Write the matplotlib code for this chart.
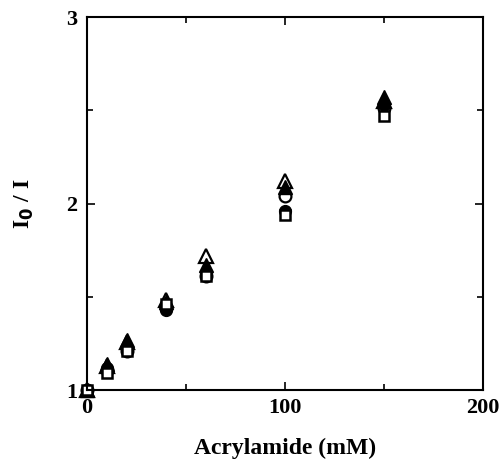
import matplotlib
matplotlib.use("Agg")
import matplotlib.pyplot as plt
from matplotlib.ticker import MultipleLocator

# Acrylamide quenching data
conc = [0, 10, 20, 40, 60, 100, 150]
tri_filled = [1.0, 1.14, 1.27, 1.47, 1.67, 2.09, 2.57]
tri_open = [1.0, 1.13, 1.26, 1.48, 1.72, 2.12, 2.55]
circ_filled = [1.0, 1.12, 1.22, 1.43, 1.63, 1.96, 2.53]
circ_open = [1.0, 1.11, 1.21, 1.44, 1.61, 2.04, 2.51]
square_open = [1.0, 1.09, 1.21, 1.46, 1.61, 1.94, 2.47]

plt.rcParams['font.family'] = ['Liberation Serif', 'DejaVu Serif']
plt.rcParams['font.weight'] = 'bold'

fig = plt.figure(figsize=(5.04, 4.62), dpi=100)
ax = fig.add_axes([0.1726, 0.1558, 0.7857, 0.8074])

ms = 8.5
ax.plot(conc, tri_open, '^', mfc='white', mec='black', mew=1.6, ms=ms + 1, clip_on=False)
ax.plot(conc, circ_open, 'o', mfc='white', mec='black', mew=1.6, ms=ms, clip_on=False)
ax.plot(conc, circ_filled, 'o', color='black', ms=ms, clip_on=False)
ax.plot(conc, tri_filled, '^', color='black', ms=ms + 1, clip_on=False)
ax.plot(conc, square_open, 's', mfc='white', mec='black', mew=1.8, ms=ms - 1, clip_on=False)

ax.set_xlim(0, 200)
ax.set_ylim(1, 3)
ax.xaxis.set_major_locator(MultipleLocator(100))
ax.xaxis.set_minor_locator(MultipleLocator(50))
ax.yaxis.set_major_locator(MultipleLocator(1))
ax.yaxis.set_minor_locator(MultipleLocator(0.5))
ax.tick_params(which='both', direction='in', top=True, right=True, labelsize=16, width=1.2)
ax.tick_params(which='major', length=6)
ax.tick_params(which='minor', length=4)
ax.tick_params(axis='x', pad=6)
ax.tick_params(axis='y', pad=7)
for s in ax.spines.values():
    s.set_linewidth(1.5)

ax.set_xlabel('Acrylamide (mM)', fontsize=17, fontweight='bold', labelpad=14)
ax.set_ylabel('I$_\\mathbf{0}$ / I', fontsize=17, fontweight='bold', labelpad=22)

fig.savefig('out.png', dpi=100)
